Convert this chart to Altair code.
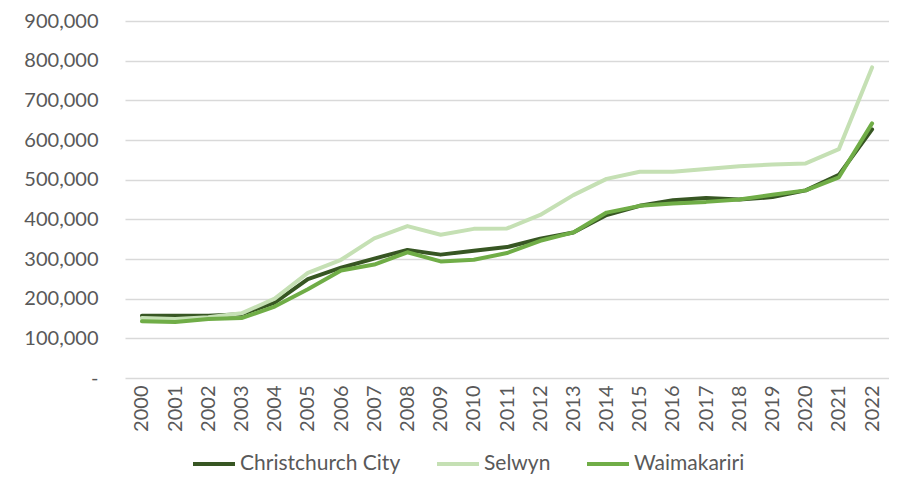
import altair as alt
import pandas as pd

years = [str(y) for y in range(2000, 2023)]
christchurch = [157000, 157000, 157000, 161000, 190000, 249000, 278000, 301000, 323000, 311000,
                321000, 330000, 351000, 367000, 411000, 434000, 448000, 454000, 450000, 456000,
                473000, 512000, 627000]
selwyn = [151000, 149000, 153000, 163000, 200000, 265000, 298000, 352000, 383000, 361000,
          376000, 377000, 411000, 461000, 502000, 520000, 520000, 527000, 534000, 538000,
          541000, 577000, 783000]
waimakariri = [143000, 141000, 149000, 151000, 180000, 224000, 271000, 286000, 317000, 294000,
               298000, 315000, 346000, 367000, 417000, 434000, 440000, 444000, 450000, 462000,
               473000, 506000, 642000]

series = ["Christchurch City", "Selwyn", "Waimakariri"]
colors = ["#375623", "#C5E0B4", "#70AD47"]

rows = []
for name, vals in zip(series, [christchurch, selwyn, waimakariri]):
    for y, v in zip(years, vals):
        rows.append({"Year": y, "Series": name, "Value": v})
df = pd.DataFrame(rows)

FONT = "Lato"
GREY = "#595959"

chart = alt.Chart(df).mark_line(strokeWidth=4, strokeCap="round", strokeJoin="round").encode(
    x=alt.X("Year:O", sort=years,
            scale=alt.Scale(type="point", padding=0.51),
            axis=alt.Axis(title=None, labelAngle=270, labelAlign="right", labelBaseline="middle",
                          labelPadding=7, ticks=False, domain=False, grid=False,
                          labelFont=FONT, labelFontSize=20, labelColor=GREY)),
    y=alt.Y("Value:Q", scale=alt.Scale(domain=[0, 900000], nice=False),
            axis=alt.Axis(title=None, values=list(range(0, 900001, 100000)),
                          labelExpr="datum.value == 0 ? '-\u00a0\u00a0\u00a0' : format(datum.value, ',')",
                          labelPadding=27, ticks=False, domain=False,
                          gridColor="#D9D9D9", gridWidth=1.5,
                          labelFont=FONT, labelFontSize=20, labelColor=GREY)),
    color=alt.Color("Series:N", sort=series,
                    scale=alt.Scale(domain=series, range=colors),
                    legend=alt.Legend(title=None, orient="none", direction="horizontal",
                                      legendX=66, legendY=420, padding=0,
                                      symbolType="stroke", symbolSize=1764, symbolStrokeWidth=4,
                                      labelOffset=3, columnPadding=28, labelLimit=400,
                                      labelFont=FONT, labelFontSize=21, labelColor=GREY)),
    order=alt.Order("Series:N")
).properties(
    width=764, height=357,
    autosize=alt.AutoSizeParams(type="none"),
    padding={"left": 117, "top": 13, "right": 0, "bottom": 98}
).configure_view(stroke=None)

chart.save("out.html", embed_options={"renderer": "svg", "actions": False})
